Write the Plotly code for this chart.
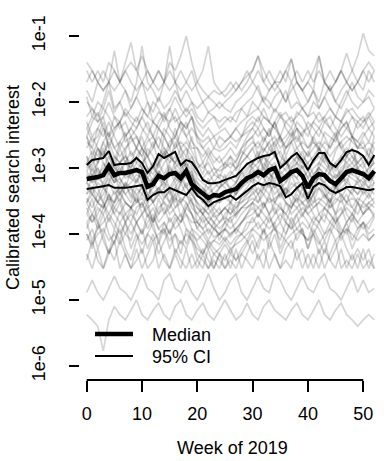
import plotly.graph_objects as go

# weeks of 2019
weeks = list(range(53))

# summary lines
median = [6.8e-4, 7.0e-4, 7.3e-4, 7.8e-4, 1.07e-3, 7.8e-4, 8.4e-4, 8.4e-4, 8.7e-4, 9.3e-4,
          8.7e-4, 5.2e-4, 5.7e-4, 7.6e-4, 7.0e-4, 8.1e-4, 8.4e-4, 7.0e-4, 9.0e-4, 5.7e-4,
          4.8e-4, 4.0e-4, 3.5e-4, 3.9e-4, 3.8e-4, 4.3e-4, 4.6e-4, 4.8e-4, 5.9e-4, 7.0e-4,
          7.6e-4, 8.7e-4, 7.8e-4, 9.3e-4, 1.0e-3, 6.35e-4, 7.3e-4, 8.7e-4, 9.3e-4, 7.6e-4,
          5.0e-4, 7.0e-4, 8.1e-4, 7.8e-4, 6.35e-4, 5.7e-4, 7.0e-4, 8.7e-4, 9.3e-4, 8.7e-4,
          8.1e-4, 7.0e-4, 9.0e-4]
ci_upper = [1.11e-3, 1.32e-3, 1.37e-3, 1.42e-3, 1.81e-3, 1.11e-3, 1.15e-3, 1.15e-3, 1.19e-3, 1.42e-3,
            1.19e-3, 8.4e-4, 1.07e-3, 1.63e-3, 1.42e-3, 1.57e-3, 1.75e-3, 1.11e-3, 1.32e-3, 1.23e-3,
            9.3e-4, 6.6e-4, 5.9e-4, 5.9e-4, 6.1e-4, 6.6e-4, 7.05e-4, 7.6e-4, 9.3e-4, 1.15e-3,
            1.28e-3, 1.42e-3, 1.52e-3, 1.57e-3, 1.75e-3, 1.0e-3, 1.19e-3, 1.47e-3, 1.69e-3, 1.32e-3,
            9.3e-4, 1.32e-3, 1.69e-3, 1.69e-3, 1.19e-3, 1.04e-3, 1.32e-3, 1.75e-3, 1.87e-3, 1.75e-3,
            1.52e-3, 1.11e-3, 1.57e-3]
ci_lower = [4.8e-4, 5.0e-4, 5.15e-4, 5.3e-4, 5.5e-4, 5.0e-4, 5.0e-4, 5.0e-4, 5.15e-4, 5.3e-4,
            5.5e-4, 3.3e-4, 3.9e-4, 4.3e-4, 4.3e-4, 5.0e-4, 4.6e-4, 4.3e-4, 3.9e-4, 5.0e-4,
            3.8e-4, 3.3e-4, 2.65e-4, 3.05e-4, 3.3e-4, 3.5e-4, 3.8e-4, 3.3e-4, 3.8e-4, 4.5e-4,
            5.3e-4, 5.9e-4, 5.5e-4, 5.9e-4, 5.7e-4, 5.3e-4, 3.6e-4, 4.0e-4, 5.0e-4, 5.9e-4,
            3.4e-4, 5.15e-4, 5.9e-4, 5.5e-4, 4.6e-4, 4.2e-4, 4.6e-4, 5.15e-4, 5.15e-4, 5.0e-4,
            4.8e-4, 4.6e-4, 4.8e-4]

# individual search terms (grey lines)
s01 = [3e-2, 2e-2, 3e-2, 2e-2, 4e-2, 3e-2, 2e-2, 3e-2, 4e-2, 3e-2,
       5e-2, 3e-2, 2e-2, 3e-2, 2e-2, 4e-2, 3e-2, 5e-2, 1e-1, 4e-2,
       2e-2, 1.5e-2, 1.2e-2, 1.5e-2, 1.3e-2, 1.5e-2, 2e-2, 1.5e-2, 2e-2, 3e-2,
       2e-2, 3e-2, 2e-2, 3e-2, 2e-2, 2e-2, 3e-2, 2e-2, 3e-2, 2e-2,
       3e-2, 2e-2, 3e-2, 2e-2, 3e-2, 2e-2, 3e-2, 2e-2, 3e-2, 5e-2,
       1.1e-1, 6e-2, 5e-2]
s02 = [2e-2, 3e-2, 2e-2, 1.5e-2, 2e-2, 3e-2, 2e-2, 4e-2, 8e-2, 3e-2,
       2e-2, 1.5e-2, 2e-2, 3e-2, 2e-2, 1.5e-2, 2e-2, 3e-2, 2e-2, 1.5e-2,
       2e-2, 3e-2, 7e-2, 2e-2, 1.5e-2, 1.2e-2, 1.5e-2, 2e-2, 1.5e-2, 2e-2,
       3e-2, 5e-2, 3e-2, 2e-2, 1.5e-2, 2e-2, 3e-2, 4.5e-2, 2e-2, 1.5e-2,
       2e-2, 1.5e-2, 5e-2, 2e-2, 1.5e-2, 2e-2, 3e-2, 5.5e-2, 3e-2, 2e-2,
       3e-2, 2e-2, 3e-2]
s03 = [1.5e-2, 1e-2, 2e-2, 1.5e-2, 2e-2, 6e-2, 2e-2, 1.5e-2, 1e-2, 2e-2,
       7e-2, 2e-2, 1.5e-2, 1e-2, 2e-2, 7e-2, 2e-2, 1e-2, 1.5e-2, 1e-2,
       8e-3, 1e-2, 7e-3, 8e-3, 1e-2, 8e-3, 7e-3, 1e-2, 1.2e-2, 1.5e-2,
       2e-2, 1.5e-2, 1e-2, 1.5e-2, 2e-2, 1.5e-2, 1e-2, 1.5e-2, 2e-2, 1.5e-2,
       1e-2, 1.5e-2, 1e-2, 2e-2, 1.5e-2, 1e-2, 1.5e-2, 2e-2, 1.5e-2, 2e-2,
       1.5e-2, 3e-2, 2e-2]
s04 = [1e-2, 8e-3, 6e-3, 1e-2, 2e-2, 8e-3, 1e-2, 6e-3, 8e-3, 1.2e-2,
       8e-3, 6e-3, 1e-2, 8e-3, 5e-3, 8e-3, 1.2e-2, 8e-3, 6e-3, 8e-3,
       5e-3, 4e-3, 5e-3, 6e-3, 4e-3, 5e-3, 6e-3, 5e-3, 8e-3, 6e-3,
       1e-2, 8e-3, 1.2e-2, 1e-2, 7e-3, 1e-2, 1.5e-2, 8e-3, 1e-2, 8e-3,
       6e-3, 1e-2, 8e-3, 1.2e-2, 8e-3, 6e-3, 1e-2, 1.5e-2, 1e-2, 8e-3,
       1e-2, 1.2e-2, 8e-3]
s05 = [4e-3, 6e-3, 5e-3, 8e-3, 6e-3, 4e-3, 5e-3, 7e-3, 5e-3, 4e-3,
       6e-3, 1e-2, 5e-3, 4e-3, 6e-3, 5e-3, 8e-3, 5e-3, 4e-3, 6e-3,
       3e-3, 2.5e-3, 3e-3, 2e-3, 3e-3, 2.5e-3, 3e-3, 4e-3, 3e-3, 5e-3,
       6e-3, 5e-3, 8e-3, 5e-3, 4e-3, 6e-3, 5e-3, 4e-3, 7e-3, 6e-3,
       4e-3, 5e-3, 7e-3, 5e-3, 4e-3, 6e-3, 5e-3, 8e-3, 6e-3, 4e-3,
       5e-3, 7e-3, 5e-3]
s06 = [3e-3, 2e-3, 4e-3, 3e-3, 5e-3, 3e-3, 2e-3, 3e-3, 4e-3, 3e-3,
       2e-3, 3e-3, 2e-3, 4e-3, 3e-3, 2e-3, 3e-3, 5e-3, 3e-3, 2e-3,
       2e-3, 1.5e-3, 2e-3, 1.5e-3, 1.2e-3, 1.5e-3, 2e-3, 1.5e-3, 2e-3, 3e-3,
       4e-3, 3e-3, 4e-3, 3e-3, 5e-3, 3e-3, 2e-3, 3e-3, 4e-3, 3e-3,
       2e-3, 3e-3, 4e-3, 3e-3, 2e-3, 3e-3, 4e-3, 5e-3, 3e-3, 2e-3,
       3e-3, 4e-3, 3e-3]
s07 = [2e-3, 3e-3, 2e-3, 1.5e-3, 3e-3, 2e-3, 1.5e-3, 2e-3, 2.5e-3, 3e-3,
       2e-3, 1.5e-3, 2e-3, 3e-3, 2e-3, 1.5e-3, 2e-3, 2.5e-3, 2e-3, 1.5e-3,
       1e-3, 1.2e-3, 8e-4, 1e-3, 9e-4, 1e-3, 1.2e-3, 1e-3, 1.5e-3, 2e-3,
       2.5e-3, 2e-3, 3e-3, 2e-3, 2.5e-3, 3e-3, 2e-3, 2.5e-3, 3e-3, 2e-3,
       1.5e-3, 2e-3, 2.5e-3, 2e-3, 1.5e-3, 2e-3, 2.5e-3, 3e-3, 2.5e-3, 2e-3,
       2e-3, 1.5e-3, 2.5e-3]
s08 = [1.5e-3, 1e-3, 2e-3, 1.5e-3, 2.5e-3, 1.5e-3, 1.2e-3, 1.5e-3, 1e-3, 1.5e-3,
       2e-3, 1.5e-3, 1e-3, 1.5e-3, 2e-3, 1.5e-3, 1.2e-3, 1.5e-3, 2e-3, 1e-3,
       8e-4, 7e-4, 6e-4, 8e-4, 7e-4, 6e-4, 8e-4, 1e-3, 1.2e-3, 1.5e-3,
       1.2e-3, 1.5e-3, 2e-3, 1.5e-3, 2.5e-3, 1.5e-3, 1.2e-3, 1.5e-3, 2e-3, 1.5e-3,
       1.2e-3, 1.5e-3, 2e-3, 1.5e-3, 1.2e-3, 1e-3, 1.5e-3, 2e-3, 1.5e-3, 1.2e-3,
       1.5e-3, 1.2e-3, 2e-3]
s09 = [1e-3, 1.5e-3, 8e-4, 1e-3, 1.5e-3, 1e-3, 8e-4, 1.2e-3, 1e-3, 1.5e-3,
       1e-3, 7e-4, 1e-3, 1.2e-3, 8e-4, 1.2e-3, 1.5e-3, 1e-3, 1.2e-3, 7e-4,
       5e-4, 4e-4, 5e-4, 4e-4, 5e-4, 6e-4, 5e-4, 6e-4, 8e-4, 1e-3,
       1.2e-3, 1e-3, 1.5e-3, 1e-3, 1.2e-3, 8e-4, 1e-3, 1.5e-3, 1.2e-3, 1e-3,
       7e-4, 1e-3, 1.2e-3, 1e-3, 8e-4, 7e-4, 1e-3, 1.2e-3, 1.5e-3, 1e-3,
       8e-4, 1e-3, 1.2e-3]
s10 = [7e-4, 8e-4, 1e-3, 7e-4, 1.2e-3, 8e-4, 1e-3, 7e-4, 8e-4, 1e-3,
       8e-4, 5e-4, 7e-4, 9e-4, 7e-4, 1e-3, 8e-4, 6e-4, 1e-3, 8e-4,
       5e-4, 4e-4, 3e-4, 4e-4, 3.5e-4, 4e-4, 5e-4, 4e-4, 6e-4, 7e-4,
       8e-4, 1e-3, 8e-4, 1.2e-3, 1e-3, 7e-4, 8e-4, 1e-3, 1.2e-3, 8e-4,
       5e-4, 8e-4, 1e-3, 8e-4, 6e-4, 5e-4, 7e-4, 1e-3, 1.2e-3, 9e-4,
       8e-4, 7e-4, 1e-3]
s11 = [6e-4, 5e-4, 7e-4, 6e-4, 9e-4, 6e-4, 7e-4, 5e-4, 6e-4, 8e-4,
       7e-4, 4e-4, 5e-4, 7e-4, 6e-4, 5e-4, 7e-4, 6e-4, 8e-4, 5e-4,
       4e-4, 3e-4, 2.5e-4, 3e-4, 3e-4, 3.5e-4, 3e-4, 4e-4, 5e-4, 6e-4,
       7e-4, 6e-4, 8e-4, 7e-4, 9e-4, 5e-4, 6e-4, 8e-4, 7e-4, 5e-4,
       4e-4, 6e-4, 7e-4, 6e-4, 5e-4, 4e-4, 6e-4, 8e-4, 7e-4, 6e-4,
       7e-4, 5e-4, 8e-4]
s12 = [4e-4, 5e-4, 3e-4, 4e-4, 6e-4, 4e-4, 5e-4, 4e-4, 3e-4, 5e-4,
       4e-4, 3e-4, 4e-4, 5e-4, 4e-4, 3e-4, 5e-4, 4e-4, 6e-4, 3e-4,
       2.5e-4, 2e-4, 2.5e-4, 1.8e-4, 2e-4, 2.5e-4, 2e-4, 3e-4, 3e-4, 4e-4,
       5e-4, 4e-4, 5e-4, 6e-4, 4e-4, 5e-4, 4e-4, 6e-4, 5e-4, 4e-4,
       3e-4, 4e-4, 5e-4, 4e-4, 3e-4, 4e-4, 5e-4, 6e-4, 5e-4, 4e-4,
       5e-4, 4e-4, 6e-4]
s13 = [3e-4, 2e-4, 3e-4, 2.5e-4, 4e-4, 2.5e-4, 2e-4, 3e-4, 2.5e-4, 2e-4,
       3e-4, 2e-4, 1.5e-4, 2.5e-4, 3e-4, 2e-4, 2.5e-4, 3e-4, 2e-4, 1.5e-4,
       1.5e-4, 1.2e-4, 1.5e-4, 1.2e-4, 1e-4, 1.5e-4, 1.2e-4, 1.5e-4, 2e-4, 2.5e-4,
       3e-4, 2.5e-4, 3e-4, 2e-4, 3e-4, 2.5e-4, 2e-4, 3e-4, 2.5e-4, 3e-4,
       2e-4, 2.5e-4, 3e-4, 2.5e-4, 2e-4, 1.5e-4, 2e-4, 3e-4, 2.5e-4, 2e-4,
       3e-4, 2.5e-4, 3e-4]
s14 = [1.5e-4, 2e-4, 1.2e-4, 1.5e-4, 2e-4, 1.5e-4, 1e-4, 1.5e-4, 2e-4, 1.5e-4,
       1e-4, 1.5e-4, 2e-4, 1.2e-4, 1.5e-4, 1e-4, 1.5e-4, 2e-4, 1.2e-4, 1e-4,
       8e-5, 1e-4, 7e-5, 8e-5, 1e-4, 8e-5, 1e-4, 1.2e-4, 1e-4, 1.5e-4,
       1.5e-4, 2e-4, 1.5e-4, 1.2e-4, 1.5e-4, 2e-4, 1.5e-4, 1.2e-4, 1.5e-4, 2e-4,
       1.5e-4, 1e-4, 1.5e-4, 2e-4, 1.5e-4, 1.2e-4, 1e-4, 1.5e-4, 2e-4, 1.5e-4,
       1.2e-4, 1.5e-4, 2e-4]
s15 = [1e-4, 7e-5, 1e-4, 1.2e-4, 8e-5, 1e-4, 7e-5, 1e-4, 1.5e-4, 1e-4,
       7e-5, 1e-4, 8e-5, 1e-4, 1.2e-4, 8e-5, 1e-4, 7e-5, 1e-4, 8e-5,
       6e-5, 5e-5, 7e-5, 5e-5, 6e-5, 8e-5, 6e-5, 7e-5, 8e-5, 1e-4,
       1.2e-4, 1e-4, 8e-5, 1e-4, 1.2e-4, 1e-4, 8e-5, 1e-4, 1.2e-4, 1e-4,
       8e-5, 1e-4, 7e-5, 1e-4, 1.2e-4, 8e-5, 1e-4, 1.2e-4, 1e-4, 8e-5,
       1e-4, 8e-5, 1e-4]
s16 = [5e-5, 3e-5, 6e-5, 3e-5, 5e-5, 8e-5, 3e-5, 5e-5, 3e-5, 6e-5,
       3e-5, 5e-5, 8e-5, 3e-5, 5e-5, 3e-5, 6e-5, 4e-5, 3e-5, 5e-5,
       3e-5, 5e-5, 3e-5, 4e-5, 3e-5, 5e-5, 3e-5, 6e-5, 3e-5, 5e-5,
       8e-5, 4e-5, 6e-5, 3e-5, 5e-5, 3e-5, 6e-5, 8e-5, 4e-5, 6e-5,
       3e-5, 5e-5, 3e-5, 6e-5, 4e-5, 3e-5, 6e-5, 3e-5, 5e-5, 3e-5,
       6e-5, 3e-5, 5e-5]
s17 = [8e-5, 1.2e-4, 6e-5, 1e-4, 5e-5, 8e-5, 1.2e-4, 6e-5, 4e-5, 8e-5,
       1.2e-4, 6e-5, 1e-4, 5e-5, 8e-5, 1.2e-4, 5e-5, 8e-5, 6e-5, 1e-4,
       5e-5, 4e-5, 3e-5, 5e-5, 4e-5, 3e-5, 5e-5, 4e-5, 6e-5, 8e-5,
       5e-5, 8e-5, 1.2e-4, 6e-5, 1e-4, 5e-5, 8e-5, 6e-5, 1e-4, 1.2e-4,
       6e-5, 1e-4, 5e-5, 8e-5, 4e-5, 6e-5, 1e-4, 6e-5, 4e-5, 6e-5,
       4e-5, 6e-5, 3e-5]
s18 = [1.3e-5, 2e-5, 1.3e-5, 1e-5, 1.5e-5, 2.3e-5, 1.5e-5, 1.3e-5, 1e-5, 1.5e-5,
       2.5e-5, 1.5e-5, 1.3e-5, 1e-5, 2e-5, 2.5e-5, 1.5e-5, 1.3e-5, 2e-5, 1.3e-5,
       1e-5, 1.5e-5, 2.5e-5, 1.5e-5, 1e-5, 1.3e-5, 2e-5, 2.5e-5, 1.3e-5, 1e-5,
       1.5e-5, 2.3e-5, 1.5e-5, 1.3e-5, 2.5e-5, 2e-5, 1.3e-5, 1e-5, 1.5e-5, 2.3e-5,
       1.5e-5, 1.3e-5, 2e-5, 2.5e-5, 1.5e-5, 1.3e-5, 1e-5, 1.5e-5, 2.3e-5, 1.3e-5,
       2e-5, 1.3e-5, 1.5e-5]
s19 = [6e-6, 5e-6, 4e-6, 1.7e-6, 5e-6, 8e-6, 6e-6, 5e-6, 7e-6, 1e-5,
       6e-6, 5e-6, 7e-6, 9e-6, 6e-6, 5e-6, 8e-6, 1e-5, 6e-6, 5e-6,
       7e-6, 9e-6, 6e-6, 5e-6, 7e-6, 1e-5, 7e-6, 5e-6, 6e-6, 9e-6,
       6e-6, 5e-6, 8e-6, 1e-5, 7e-6, 6e-6, 5e-6, 7e-6, 9e-6, 6e-6,
       5e-6, 7e-6, 1e-5, 6e-6, 5e-6, 7e-6, 9e-6, 6e-6, 5e-6, 4e-6,
       5e-6, 6e-6, 5e-6]
s20 = [5e-3, 3e-3, 4e-3, 6e-3, 3e-3, 4e-3, 5e-3, 3e-3, 4e-3, 6e-3,
       4e-3, 3e-3, 5e-3, 4e-3, 3e-3, 5e-3, 6e-3, 4e-3, 3e-3, 4e-3,
       3e-3, 2e-3, 2.5e-3, 3e-3, 2e-3, 2.5e-3, 3e-3, 2.5e-3, 3e-3, 4e-3,
       5e-3, 4e-3, 6e-3, 5e-3, 4e-3, 3e-3, 5e-3, 6e-3, 4e-3, 3e-3,
       5e-3, 4e-3, 3e-3, 5e-3, 6e-3, 4e-3, 3e-3, 4e-3, 6e-3, 5e-3,
       4e-3, 6e-3, 4e-3]
s21 = [1.2e-3, 9e-4, 1.2e-3, 1.8e-3, 1.2e-3, 9e-4, 1.2e-3, 1.5e-3, 1.2e-3, 9e-4,
       1.2e-3, 1.5e-3, 1e-3, 8e-4, 1.2e-3, 1.5e-3, 1.2e-3, 9e-4, 1.5e-3, 1.2e-3,
       7e-4, 6e-4, 5e-4, 6e-4, 5e-4, 6e-4, 7e-4, 6e-4, 9e-4, 1.2e-3,
       1e-3, 1.2e-3, 1.5e-3, 1.2e-3, 1.5e-3, 1.8e-3, 1.2e-3, 1e-3, 1.5e-3, 1.2e-3,
       9e-4, 1.2e-3, 1.5e-3, 1.2e-3, 9e-4, 1.2e-3, 1.5e-3, 1.2e-3, 1e-3, 1.2e-3,
       1.5e-3, 1.2e-3, 1.5e-3]
s22 = [8e-4, 6e-4, 7e-4, 9e-4, 1.2e-3, 7e-4, 6e-4, 8e-4, 7e-4, 6e-4,
       9e-4, 7e-4, 6e-4, 8e-4, 7e-4, 9e-4, 6e-4, 8e-4, 7e-4, 6e-4,
       4e-4, 3.5e-4, 3e-4, 3.5e-4, 4e-4, 3.5e-4, 4e-4, 5e-4, 6e-4, 7e-4,
       9e-4, 7e-4, 1e-3, 8e-4, 7e-4, 9e-4, 7e-4, 8e-4, 1e-3, 7e-4,
       6e-4, 7e-4, 9e-4, 7e-4, 6e-4, 8e-4, 7e-4, 9e-4, 8e-4, 7e-4,
       6e-4, 8e-4, 9e-4]
s23 = [5e-4, 4e-4, 6e-4, 5e-4, 7e-4, 5e-4, 4e-4, 6e-4, 5e-4, 4e-4,
       5e-4, 6e-4, 4e-4, 5e-4, 6e-4, 4e-4, 5e-4, 7e-4, 5e-4, 4e-4,
       3e-4, 2.5e-4, 2e-4, 2.5e-4, 2e-4, 2.5e-4, 3e-4, 2.5e-4, 3.5e-4, 4e-4,
       5e-4, 6e-4, 5e-4, 7e-4, 5e-4, 6e-4, 4e-4, 5e-4, 6e-4, 5e-4,
       4e-4, 5e-4, 6e-4, 5e-4, 4e-4, 5e-4, 6e-4, 7e-4, 5e-4, 4e-4,
       6e-4, 5e-4, 6e-4]
s24 = [3e-4, 4e-4, 3e-4, 2.5e-4, 3.5e-4, 3e-4, 4e-4, 3e-4, 2.5e-4, 3e-4,
       3.5e-4, 2.5e-4, 3e-4, 4e-4, 3e-4, 2.5e-4, 3.5e-4, 3e-4, 4e-4, 2.5e-4,
       2e-4, 1.5e-4, 1.8e-4, 1.5e-4, 1.2e-4, 1.5e-4, 1.8e-4, 2e-4, 2.5e-4, 3e-4,
       3.5e-4, 3e-4, 4e-4, 3e-4, 3.5e-4, 4e-4, 3e-4, 2.5e-4, 3.5e-4, 3e-4,
       2.5e-4, 3e-4, 3.5e-4, 3e-4, 2.5e-4, 3e-4, 4e-4, 3e-4, 3.5e-4, 3e-4,
       2.5e-4, 3e-4, 3.5e-4]
s25 = [2e-4, 1.5e-4, 2.5e-4, 2e-4, 3e-4, 2e-4, 1.5e-4, 2e-4, 2.5e-4, 1.5e-4,
       2e-4, 2.5e-4, 1.5e-4, 2e-4, 2.5e-4, 1.5e-4, 2e-4, 1.5e-4, 2.5e-4, 2e-4,
       1.2e-4, 1e-4, 1.2e-4, 9e-5, 1e-4, 1.2e-4, 1e-4, 1.2e-4, 1.5e-4, 1.8e-4,
       2e-4, 2.5e-4, 2e-4, 1.5e-4, 2e-4, 2.5e-4, 2e-4, 1.5e-4, 2e-4, 2.5e-4,
       2e-4, 1.5e-4, 2e-4, 2.5e-4, 2e-4, 1.5e-4, 2e-4, 2.5e-4, 2e-4, 1.5e-4,
       2e-4, 2.5e-4, 2e-4]
s26 = [9e-4, 1.2e-3, 2e-3, 1.2e-3, 9e-4, 1.5e-3, 1.2e-3, 8e-4, 1.2e-3, 2e-3,
       1.5e-3, 1e-3, 8e-4, 1.2e-3, 1.5e-3, 2e-3, 1e-3, 8e-4, 1.2e-3, 9e-4,
       6e-4, 5e-4, 4e-4, 5e-4, 6e-4, 5e-4, 4e-4, 5e-4, 7e-4, 9e-4,
       1.2e-3, 1.5e-3, 1e-3, 2e-3, 1.5e-3, 1.2e-3, 9e-4, 1.2e-3, 1.5e-3, 1e-3,
       1.2e-3, 8e-4, 1e-3, 1.5e-3, 1.2e-3, 9e-4, 1.2e-3, 1.5e-3, 2e-3, 1.2e-3,
       1e-3, 1.5e-3, 1.2e-3]
s27 = [6e-3, 8e-3, 5e-3, 6e-3, 1e-2, 6e-3, 5e-3, 8e-3, 6e-3, 5e-3,
       8e-3, 6e-3, 5e-3, 7e-3, 6e-3, 8e-3, 5e-3, 6e-3, 8e-3, 6e-3,
       4e-3, 3e-3, 4e-3, 3e-3, 3.5e-3, 4e-3, 3e-3, 4e-3, 5e-3, 6e-3,
       7e-3, 8e-3, 6e-3, 5e-3, 8e-3, 6e-3, 7e-3, 5e-3, 6e-3, 8e-3,
       6e-3, 7e-3, 5e-3, 6e-3, 8e-3, 6e-3, 5e-3, 7e-3, 8e-3, 6e-3,
       5e-3, 6e-3, 8e-3]
s28 = [4e-2, 3e-2, 2e-2, 3e-2, 2e-2, 1.5e-2, 2e-2, 3e-2, 2e-2, 1.5e-2,
       2e-2, 3e-2, 2e-2, 1.5e-2, 2e-2, 3e-2, 2e-2, 1.5e-2, 2e-2, 3e-2,
       1.5e-2, 1e-2, 1.2e-2, 1e-2, 8e-3, 1e-2, 1.2e-2, 1.5e-2, 2e-2, 2.5e-2,
       3e-2, 5e-2, 2e-2, 1.5e-2, 2e-2, 3e-2, 2e-2, 4.5e-2, 2e-2, 1.5e-2,
       2e-2, 3e-2, 5e-2, 2e-2, 1.5e-2, 2e-2, 3e-2, 2e-2, 1.5e-2, 2e-2,
       3e-2, 4e-2, 3e-2]
s29 = [4e-5, 8e-5, 4e-5, 3e-5, 6e-5, 4e-5, 8e-5, 5e-5, 3e-5, 4e-5,
       6e-5, 3e-5, 4e-5, 8e-5, 4e-5, 3e-5, 5e-5, 3e-5, 6e-5, 3e-5,
       4e-5, 3e-5, 6e-5, 3e-5, 5e-5, 3e-5, 4e-5, 3e-5, 5e-5, 4e-5,
       3e-5, 5e-5, 3e-5, 8e-5, 5e-5, 3e-5, 4e-5, 3e-5, 6e-5, 3e-5,
       5e-5, 3e-5, 6e-5, 3e-5, 5e-5, 8e-5, 3e-5, 4e-5, 3e-5, 5e-5,
       3e-5, 4e-5, 3e-5]
s30 = [6e-4, 4e-4, 3e-4, 5e-4, 4e-4, 3e-4, 6e-4, 4e-4, 5e-4, 3e-4,
       4e-4, 6e-4, 3e-4, 4e-4, 5e-4, 3e-4, 4e-4, 6e-4, 4e-4, 3e-4,
       2e-4, 2.5e-4, 2e-4, 1.5e-4, 2e-4, 2.5e-4, 2e-4, 2.5e-4, 3e-4, 3.5e-4,
       4e-4, 5e-4, 4e-4, 6e-4, 3e-4, 4e-4, 5e-4, 4e-4, 3e-4, 5e-4,
       3e-4, 4e-4, 6e-4, 4e-4, 3e-4, 5e-4, 4e-4, 3e-4, 5e-4, 6e-4,
       4e-4, 5e-4, 4e-4]
s31 = [3e-3, 1.5e-3, 2.5e-3, 4e-3, 2e-3, 1.2e-3, 2.5e-3, 3.5e-3, 1.5e-3, 2e-3,
       3e-3, 1.5e-3, 2.5e-3, 1.2e-3, 3e-3, 2e-3, 4e-3, 2e-3, 1.5e-3, 3e-3,
       1.2e-3, 8e-4, 1.5e-3, 1e-3, 7e-4, 1.2e-3, 1.5e-3, 9e-4, 1.5e-3, 2.5e-3,
       3e-3, 1.5e-3, 2.5e-3, 4e-3, 2e-3, 3e-3, 1.5e-3, 2.5e-3, 4e-3, 2e-3,
       1.5e-3, 3e-3, 2e-3, 1.2e-3, 2.5e-3, 3.5e-3, 2e-3, 1.5e-3, 3e-3, 2e-3,
       2.5e-3, 1.5e-3, 3e-3]
s32 = [1.5e-3, 7e-4, 1.2e-3, 2e-3, 9e-4, 6e-4, 1.2e-3, 1.8e-3, 8e-4, 1.2e-3,
       2e-3, 1e-3, 6e-4, 1.2e-3, 1.8e-3, 8e-4, 1.2e-3, 2e-3, 1e-3, 7e-4,
       6e-4, 4e-4, 7e-4, 3.5e-4, 5e-4, 8e-4, 4e-4, 6e-4, 9e-4, 6e-4,
       1.2e-3, 1.8e-3, 9e-4, 1.5e-3, 2e-3, 1e-3, 1.5e-3, 8e-4, 1.2e-3, 1.8e-3,
       1e-3, 6e-4, 1.2e-3, 1.8e-3, 9e-4, 1.2e-3, 7e-4, 1.5e-3, 2e-3, 1e-3,
       1.2e-3, 8e-4, 1.5e-3]
s33 = [4e-4, 8e-4, 5e-4, 3e-4, 6e-4, 9e-4, 4e-4, 6e-4, 3.5e-4, 7e-4,
       5e-4, 3e-4, 7e-4, 4e-4, 8e-4, 5e-4, 3e-4, 6e-4, 9e-4, 4e-4,
       3e-4, 2e-4, 3.5e-4, 2e-4, 2.5e-4, 1.5e-4, 3e-4, 2e-4, 4e-4, 5e-4,
       7e-4, 4e-4, 6e-4, 9e-4, 5e-4, 7e-4, 4e-4, 8e-4, 5e-4, 3.5e-4,
       6e-4, 4e-4, 8e-4, 5e-4, 3e-4, 6e-4, 9e-4, 5e-4, 4e-4, 7e-4,
       5e-4, 8e-4, 6e-4]
s34 = [2e-4, 3.5e-4, 1.5e-4, 2.5e-4, 4e-4, 2e-4, 3e-4, 1.5e-4, 2.5e-4, 4e-4,
       2e-4, 3e-4, 1.5e-4, 3.5e-4, 2e-4, 2.5e-4, 4e-4, 1.8e-4, 3e-4, 2e-4,
       1.2e-4, 1.8e-4, 1e-4, 1.5e-4, 8e-5, 1.2e-4, 1.8e-4, 1e-4, 1.5e-4, 2e-4,
       3e-4, 1.8e-4, 2.5e-4, 4e-4, 2e-4, 3e-4, 1.5e-4, 2.5e-4, 3.5e-4, 2e-4,
       2.5e-4, 4e-4, 2e-4, 1.5e-4, 3e-4, 2e-4, 3.5e-4, 2e-4, 1.5e-4, 3e-4,
       2e-4, 3e-4, 2.5e-4]
s35 = [1.5e-4, 8e-5, 1.2e-4, 2e-4, 1e-4, 7e-5, 1.5e-4, 1e-4, 8e-5, 1.5e-4,
       1e-4, 2e-4, 1.2e-4, 8e-5, 1.5e-4, 1e-4, 1.8e-4, 1.2e-4, 7e-5, 1.2e-4,
       7e-5, 5e-5, 8e-5, 6e-5, 5e-5, 7e-5, 5e-5, 8e-5, 1e-4, 8e-5,
       1.2e-4, 1.5e-4, 1e-4, 1.8e-4, 1.2e-4, 8e-5, 1.5e-4, 1.2e-4, 2e-4, 1e-4,
       8e-5, 1.5e-4, 1.2e-4, 8e-5, 1.2e-4, 1.8e-4, 1e-4, 1.5e-4, 8e-5, 1.2e-4,
       1.5e-4, 1e-4, 1.2e-4]
s36 = [4e-3, 2.5e-3, 3e-3, 5e-3, 2e-3, 3.5e-3, 5e-3, 2.5e-3, 3e-3, 2e-3,
       3.5e-3, 5e-3, 3e-3, 2e-3, 4e-3, 3e-3, 2e-3, 3.5e-3, 5e-3, 2.5e-3,
       2e-3, 1.2e-3, 1.8e-3, 1.2e-3, 1.5e-3, 1e-3, 1.5e-3, 1.2e-3, 2e-3, 2.5e-3,
       3e-3, 4e-3, 2.5e-3, 3.5e-3, 5e-3, 2.5e-3, 3e-3, 4e-3, 2.5e-3, 3.5e-3,
       4e-3, 2.5e-3, 2e-3, 3.5e-3, 3e-3, 2.5e-3, 4e-3, 5e-3, 3e-3, 2.5e-3,
       3.5e-3, 2.5e-3, 4e-3]
s37 = [9e-4, 6e-4, 1e-3, 5e-4, 8e-4, 1.2e-3, 7e-4, 5e-4, 9e-4, 6e-4,
       1e-3, 7e-4, 5e-4, 9e-4, 6e-4, 1.1e-3, 7e-4, 9e-4, 5e-4, 8e-4,
       5e-4, 3e-4, 4e-4, 2.5e-4, 3.5e-4, 4.5e-4, 3e-4, 4.5e-4, 5e-4, 7e-4,
       6e-4, 9e-4, 7e-4, 5e-4, 1e-3, 8e-4, 6e-4, 9e-4, 7e-4, 1.1e-3,
       7e-4, 5e-4, 8e-4, 6e-4, 9e-4, 5e-4, 8e-4, 6e-4, 1e-3, 7e-4,
       9e-4, 6e-4, 8e-4]
s38 = [3e-4, 5e-4, 4e-4, 6e-4, 3e-4, 4.5e-4, 3e-4, 5.5e-4, 4e-4, 3e-4,
       6e-4, 4e-4, 3e-4, 5e-4, 3.5e-4, 4.5e-4, 6e-4, 3e-4, 4e-4, 5e-4,
       2.5e-4, 2e-4, 1.5e-4, 2e-4, 1.5e-4, 2e-4, 2.5e-4, 1.8e-4, 2.5e-4, 3e-4,
       4.5e-4, 3e-4, 5e-4, 4e-4, 6e-4, 3.5e-4, 5e-4, 3e-4, 4.5e-4, 6e-4,
       4e-4, 3e-4, 5e-4, 3.5e-4, 4.5e-4, 6e-4, 3.5e-4, 5e-4, 4e-4, 3e-4,
       4.5e-4, 3.5e-4, 5e-4]
s39 = [1.2e-3, 1.8e-3, 1.2e-3, 2.5e-3, 1.5e-3, 1e-3, 2e-3, 1.2e-3, 1.8e-3, 1.2e-3,
       1e-3, 2e-3, 1.5e-3, 1e-3, 1.8e-3, 1.2e-3, 2.5e-3, 1.5e-3, 1e-3, 1.5e-3,
       9e-4, 7e-4, 9e-4, 6e-4, 8e-4, 7e-4, 9e-4, 7e-4, 1.2e-3, 1.5e-3,
       2e-3, 1.2e-3, 1.8e-3, 2.5e-3, 1.5e-3, 1.2e-3, 2e-3, 2.5e-3, 1.5e-3, 1.2e-3,
       1.8e-3, 1.2e-3, 2e-3, 1.5e-3, 1e-3, 1.8e-3, 2.5e-3, 1.5e-3, 1.2e-3, 1.8e-3,
       1.2e-3, 2e-3, 1.5e-3]
s40 = [1.2e-2, 6e-3, 1e-2, 8e-3, 1.5e-2, 7e-3, 1e-2, 1.5e-2, 8e-3, 1.2e-2,
       2e-2, 1e-2, 7e-3, 1.2e-2, 8e-3, 1e-2, 1.5e-2, 1e-2, 7e-3, 1e-2,
       6e-3, 5e-3, 7e-3, 6e-3, 5e-3, 6e-3, 5e-3, 7e-3, 8e-3, 1e-2,
       1.2e-2, 1.8e-2, 1e-2, 8e-3, 1.2e-2, 1.5e-2, 1e-2, 2e-2, 1.2e-2, 8e-3,
       1e-2, 1.5e-2, 8e-3, 1.2e-2, 1.8e-2, 1e-2, 8e-3, 1.2e-2, 2e-2, 1.2e-2,
       1e-2, 1.5e-2, 1.2e-2]
s41 = [1e-4, 6e-5, 1.5e-4, 8e-5, 5e-5, 1.2e-4, 8e-5, 1.5e-4, 6e-5, 1e-4,
       5e-5, 1e-4, 1.5e-4, 7e-5, 1.2e-4, 6e-5, 1e-4, 5e-5, 1.2e-4, 8e-5,
       4e-5, 6e-5, 4e-5, 3e-5, 5e-5, 4e-5, 6e-5, 4e-5, 5e-5, 7e-5,
       1e-4, 6e-5, 1.2e-4, 8e-5, 1.5e-4, 6e-5, 1e-4, 1.5e-4, 8e-5, 1.2e-4,
       6e-5, 1.2e-4, 8e-5, 5e-5, 1e-4, 1.5e-4, 8e-5, 1.2e-4, 6e-5, 1e-4,
       1.5e-4, 8e-5, 1e-4]
s42 = [2.5e-4, 1.5e-4, 2e-4, 3e-4, 1.5e-4, 2.5e-4, 3.5e-4, 2e-4, 1.5e-4, 2.5e-4,
       3e-4, 1.8e-4, 2.5e-4, 1.5e-4, 2e-4, 3e-4, 2e-4, 1.5e-4, 2.5e-4, 3.5e-4,
       1.5e-4, 1.2e-4, 8e-5, 1.2e-4, 1e-4, 1.2e-4, 9e-5, 1.2e-4, 1.5e-4, 2e-4,
       2.5e-4, 1.8e-4, 3e-4, 2e-4, 2.5e-4, 1.5e-4, 3e-4, 2e-4, 2.5e-4, 1.8e-4,
       3e-4, 2e-4, 1.5e-4, 2.5e-4, 3.5e-4, 2e-4, 2.5e-4, 1.5e-4, 2e-4, 3e-4,
       2e-4, 2.5e-4, 1.8e-4]
s43 = [6e-4, 1e-3, 7e-4, 1.2e-3, 8e-4, 6e-4, 9e-4, 1.3e-3, 7e-4, 1e-3,
       6e-4, 9e-4, 1.2e-3, 7e-4, 5e-4, 8e-4, 1e-3, 1.3e-3, 7e-4, 9e-4,
       4e-4, 5e-4, 3.5e-4, 4e-4, 3e-4, 4e-4, 5e-4, 4e-4, 6e-4, 8e-4,
       1e-3, 7e-4, 1.2e-3, 9e-4, 6e-4, 1e-3, 1.3e-3, 8e-4, 1e-3, 7e-4,
       9e-4, 6e-4, 1e-3, 8e-4, 1.2e-3, 7e-4, 9e-4, 1.1e-3, 8e-4, 1e-3,
       7e-4, 1e-3, 1.2e-3]
s44 = [3e-3, 5e-3, 7e-3, 4e-3, 3e-3, 6e-3, 4e-3, 5e-3, 3e-3, 4e-3,
       6e-3, 4e-3, 3e-3, 5e-3, 7e-3, 4e-3, 3e-3, 5e-3, 4e-3, 6e-3,
       2.5e-3, 2e-3, 1.5e-3, 2e-3, 1.8e-3, 2e-3, 2.5e-3, 2e-3, 3e-3, 3.5e-3,
       4e-3, 6e-3, 4e-3, 3e-3, 5e-3, 7e-3, 4e-3, 3e-3, 5e-3, 4e-3,
       3e-3, 5e-3, 4e-3, 6e-3, 4e-3, 3e-3, 5e-3, 4e-3, 3e-3, 5e-3,
       6e-3, 4e-3, 5e-3]
s45 = [3.5e-4, 2.5e-4, 4e-4, 3e-4, 2e-4, 3e-4, 4.5e-4, 3e-4, 2.5e-4, 3.5e-4,
       2.5e-4, 4e-4, 3e-4, 2e-4, 3.5e-4, 4.5e-4, 2.5e-4, 3.5e-4, 3e-4, 2e-4,
       1.5e-4, 2e-4, 1.5e-4, 1.2e-4, 1.5e-4, 1.8e-4, 1.5e-4, 2e-4, 2.5e-4, 2.5e-4,
       3e-4, 4e-4, 2.5e-4, 3.5e-4, 3e-4, 4.5e-4, 3e-4, 2.5e-4, 4e-4, 3e-4,
       3.5e-4, 2.5e-4, 3e-4, 4e-4, 2.5e-4, 3.5e-4, 3e-4, 4e-4, 2.5e-4, 3.5e-4,
       3e-4, 4e-4, 3e-4]
s46 = [1.2e-4, 2e-4, 1.5e-4, 1e-4, 1.8e-4, 1.2e-4, 2.2e-4, 1.5e-4, 1e-4, 1.5e-4,
       2e-4, 1.2e-4, 1.8e-4, 1.2e-4, 1e-4, 1.8e-4, 1.2e-4, 1.5e-4, 2e-4, 1.2e-4,
       1e-4, 8e-5, 6e-5, 8e-5, 7e-5, 9e-5, 7e-5, 9e-5, 1e-4, 1.2e-4,
       1.8e-4, 1.2e-4, 1.5e-4, 2e-4, 1.2e-4, 1.5e-4, 1e-4, 1.8e-4, 1.2e-4, 1.5e-4,
       1.2e-4, 1.8e-4, 1.5e-4, 1e-4, 1.5e-4, 2e-4, 1.2e-4, 1e-4, 1.8e-4, 1.2e-4,
       1.5e-4, 1.2e-4, 1.8e-4]
s47 = [2.5e-3, 2e-3, 1.5e-3, 2.5e-3, 3.5e-3, 2e-3, 2.5e-3, 1.8e-3, 3e-3, 2e-3,
       1.5e-3, 2.5e-3, 3e-3, 2e-3, 1.5e-3, 2.5e-3, 3e-3, 2e-3, 2.5e-3, 1.8e-3,
       1.2e-3, 1e-3, 1.2e-3, 8e-4, 1e-3, 1.2e-3, 1e-3, 1.3e-3, 1.8e-3, 1.5e-3,
       2e-3, 2.5e-3, 1.8e-3, 2.5e-3, 3e-3, 2e-3, 2.5e-3, 3.5e-3, 2e-3, 2.5e-3,
       2e-3, 2.5e-3, 1.8e-3, 2.5e-3, 2e-3, 3e-3, 2e-3, 2.5e-3, 3e-3, 2.5e-3,
       2e-3, 2.5e-3, 2e-3]

y_ticks = [1e-6, 1e-5, 1e-4, 1e-3, 1e-2, 1e-1]
y_tick_labels = ["1e-6", "1e-5", "1e-4", "1e-3", "1e-2", "1e-1"]
x_ticks = [0, 10, 20, 30, 40, 50]

FONT = "Liberation Sans, Arial, Helvetica, sans-serif"
W, H = 390, 461
L, R, T, B = 80, 5, 30, 81


def px_x(px):
    # page pixel -> paper x
    return (px - L) / (W - L - R)


def px_y(py):
    # page pixel -> paper y
    return (H - B - py) / (H - T - B)


terms = [s01, s02, s03, s04, s05, s06, s07, s08, s09, s10,
         s11, s12, s13, s14, s15, s16, s17, s18, s19, s20,
         s21, s22, s23, s24, s25, s26, s27, s28, s29, s30,
         s31, s32, s33, s34, s35, s36, s37, s38, s39, s40,
         s41, s42, s43, s44, s45, s46, s47]

fig = go.Figure()

for s in terms:
    fig.add_trace(go.Scatter(x=weeks, y=s, mode="lines",
                             line=dict(color="rgba(0,0,0,0.17)", width=1.7),
                             hoverinfo="skip"))

fig.add_trace(go.Scatter(x=weeks, y=ci_upper, mode="lines",
                         line=dict(color="black", width=2), name="95% CI"))
fig.add_trace(go.Scatter(x=weeks, y=ci_lower, mode="lines",
                         line=dict(color="black", width=2), name="95% CI"))
fig.add_trace(go.Scatter(x=weeks, y=median, mode="lines",
                         line=dict(color="black", width=4.5), name="Median"))

# R-style detached axis lines
fig.add_shape(type="line", xref="paper", yref="y", x0=0, x1=0, y0=-6, y1=-1,
              line=dict(color="black", width=2))
fig.add_shape(type="line", xref="x", yref="paper", x0=0, x1=50, y0=0, y1=0,
              line=dict(color="black", width=2))

# legend drawn by hand, bottom left
fig.add_shape(type="line", xref="paper", yref="paper", x0=px_x(95), x1=px_x(133),
              y0=px_y(334), y1=px_y(334), line=dict(color="black", width=4.5))
fig.add_shape(type="line", xref="paper", yref="paper", x0=px_x(95), x1=px_x(133),
              y0=px_y(356), y1=px_y(356), line=dict(color="black", width=2))
for label, py in [("Median", 335), ("95% CI", 357)]:
    fig.add_annotation(x=px_x(150), y=px_y(py), xref="paper", yref="paper", text=label,
                       showarrow=False, xanchor="left", yanchor="middle",
                       font=dict(family=FONT, size=18, color="black"))

# axis titles
fig.add_annotation(x=px_x(232), y=px_y(448), xref="paper", yref="paper",
                   text="Week of 2019", showarrow=False,
                   xanchor="center", yanchor="middle",
                   font=dict(family=FONT, size=18, color="black"))
fig.add_annotation(x=px_x(13), y=px_y(188), xref="paper", yref="paper",
                   text="Calibrated search interest", textangle=-90, showarrow=False,
                   xanchor="center", yanchor="middle",
                   font=dict(family=FONT, size=18, color="black"))

fig.update_layout(
    width=W, height=H,
    margin=dict(l=L, r=R, t=T, b=B),
    plot_bgcolor="white", paper_bgcolor="white",
    showlegend=False,
    font=dict(family=FONT, size=18, color="black"),
    xaxis=dict(range=[-1.21, 53.94], showgrid=False, zeroline=False, showline=False,
               tickvals=x_ticks, ticks="outside", ticklen=11, tickwidth=2,
               tickcolor="black", ticklabelstandoff=6,
               tickfont=dict(family=FONT, size=18, color="black")),
    yaxis=dict(type="log", range=[-6.212, -0.909], showgrid=False, zeroline=False,
               showline=False, tickvals=y_ticks, ticktext=y_tick_labels,
               ticks="outside", ticklen=10, tickwidth=2, tickcolor="black",
               tickangle=-90, ticklabelstandoff=17,
               tickfont=dict(family=FONT, size=18, color="black")),
)

# page body has an 8px default margin; drop it so the figure sits at 0,0
fig.write_html("out.html", config={"displayModeBar": False},
               post_script="document.body.style.margin='0';")
